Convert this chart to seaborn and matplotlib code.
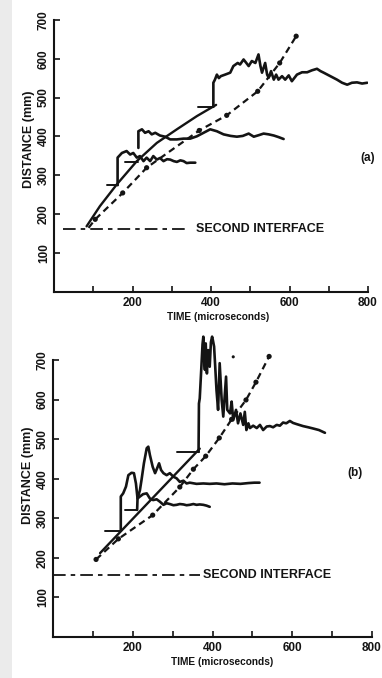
import numpy as np
import pandas as pd
import matplotlib
matplotlib.use("Agg")
import matplotlib.pyplot as plt
import seaborn as sns

sns.set_theme(style="ticks")
plt.rcParams['font.family'] = ['Liberation Sans', 'DejaVu Sans']
plt.rcParams['font.weight'] = 'bold'

# ---------------- Panel (a) data ----------------
a_iface_x = [24, 333]
a_iface_y = [162, 162]
a_smooth_x = [83, 117, 160, 211, 262, 313, 364, 413]
a_smooth_y = [168, 220, 276, 336, 383, 418, 452, 481]
a_dash_x = [88, 105, 175, 236, 370, 440, 519, 575, 617]
a_dash_y = [164, 186, 254, 319, 415, 454, 516, 589, 658]
a_marks = [(136, 162, 274), (181, 214, 333), (368, 406, 476)]
a_c1_x = [162, 162, 173, 185, 194, 202, 211, 219, 228, 236, 245, 253, 262, 270, 279, 288, 296, 305, 313, 322, 330, 338, 347, 360]
a_c1_y = [274, 345, 357, 362, 353, 357, 345, 349, 336, 345, 336, 349, 340, 344, 336, 341, 340, 336, 334, 338, 336, 331, 332, 332]
a_c2_x = [215, 215, 224, 232, 241, 249, 258, 270, 283, 296, 313, 330, 347, 364, 381, 398, 415, 432, 450, 466, 481, 496, 509, 522, 534, 547, 560, 572, 585]
a_c2_y = [370, 413, 418, 409, 413, 405, 409, 402, 399, 392, 392, 394, 394, 400, 409, 418, 413, 405, 401, 399, 401, 407, 399, 403, 407, 405, 402, 398, 393]
a_c3_x = [406, 406, 410, 415, 420, 425, 436, 449, 457, 468, 474, 483, 490, 496, 504, 513, 521, 526, 530, 538, 543, 547, 553, 560, 566, 572, 581, 589, 598, 606, 619, 632, 645, 657, 670, 679, 687, 704, 721, 734, 747, 759, 772, 785, 798]
a_c3_y = [476, 538, 546, 559, 550, 555, 559, 564, 581, 589, 585, 598, 589, 581, 594, 589, 611, 581, 564, 589, 559, 551, 568, 546, 559, 546, 555, 546, 557, 542, 559, 565, 565, 570, 574, 568, 564, 555, 546, 538, 533, 538, 539, 536, 538]

# ---------------- Panel (b) data ----------------
b_iface_x = [0, 368]
b_iface_y = [157, 157]
b_smooth_x = [118, 368]
b_smooth_y = [212, 476]
b_dash_x = [108, 164, 250, 318, 352, 383, 417, 448, 484, 509, 542]
b_dash_y = [196, 248, 308, 379, 424, 457, 503, 550, 599, 644, 709]
b_marks = [(130, 170, 269), (180, 211, 321), (312, 365, 468)]
b_c1_x = [170, 170, 176, 183, 189, 197, 203, 208, 212, 218, 226, 235, 243, 251, 260, 268, 277, 285, 293, 302, 310, 318, 327, 335, 343, 352, 360, 368, 377, 385, 393]
b_c1_y = [269, 355, 363, 380, 409, 415, 414, 388, 350, 355, 361, 363, 350, 346, 348, 342, 334, 338, 336, 333, 334, 336, 335, 333, 334, 336, 334, 335, 334, 332, 329]
b_c2_x = [211, 212, 218, 222, 228, 235, 239, 243, 250, 256, 261, 266, 271, 277, 285, 293, 302, 310, 318, 327, 335, 343, 360, 377, 393, 410, 430, 450, 470, 490, 505, 518]
b_c2_y = [321, 350, 371, 397, 439, 477, 481, 460, 430, 414, 426, 439, 422, 414, 409, 414, 405, 401, 392, 395, 388, 390, 387, 388, 387, 388, 386, 388, 387, 389, 390, 390]
b_c3_x = [365, 366, 368, 372, 375, 377, 379, 381, 383, 385, 386, 388, 389, 391, 393, 396, 399, 401, 404, 407, 410, 414, 418, 423, 427, 434, 437, 444, 448, 452, 459, 464, 470, 477, 481, 485, 490, 494, 502, 511, 519, 527, 536, 544, 552, 561, 569, 577, 585, 594, 602, 611, 627, 640, 652, 667, 682]
b_c3_y = [468, 590, 603, 680, 740, 759, 700, 675, 742, 690, 666, 720, 725, 690, 683, 745, 759, 750, 734, 680, 624, 574, 692, 599, 557, 658, 574, 565, 595, 548, 574, 540, 565, 536, 569, 523, 540, 528, 534, 528, 536, 523, 532, 533, 530, 536, 534, 542, 540, 546, 541, 538, 533, 530, 527, 523, 516]
b_stray_x = [452]
b_stray_y = [708]

xticks = [100, 200, 300, 400, 500, 600, 700, 800]
xticklabels = ['', '200', '', '400', '', '600', '', '800']
yticks = [100, 200, 300, 400, 500, 600, 700]
yticklabels = ['100', '200', '300', '400', '500', '600', '700']

INK = '#141414'

fig = plt.figure(figsize=(3.82, 6.78), dpi=100)
fig.patch.set_facecolor('white')
fig.patches.append(plt.Rectangle((0, 0), 12 / 382, 1, transform=fig.transFigure,
                                 facecolor='#ebebeb', edgecolor='none', zorder=0))

ax_a = fig.add_axes([54 / 382, 1 - 291.5 / 678, 314 / 382, 271.6 / 678])
ax_b = fig.add_axes([53 / 382, 1 - 637 / 678, 319 / 382, 304.7 / 678])


def line(ax, x, y, lw=1.8, ls='-'):
    sns.lineplot(x=x, y=y, ax=ax, sort=False, estimator=None, color=INK,
                 linewidth=lw, linestyle=ls, legend=False)


def draw_panel(ax, iface_x, iface_y, smooth_x, smooth_y, dash_x, dash_y, dot_start,
               marks, curves, ylim, label, label_xy, iface_text_x, lab_coords):
    ax.set_facecolor('none')
    line(ax, iface_x, iface_y, lw=1.3, ls=(0, (7, 2.8, 2.5, 2.8)))
    line(ax, smooth_x, smooth_y, lw=1.7)
    line(ax, dash_x, dash_y, lw=1.6, ls=(0, (3, 2)))
    sns.scatterplot(x=dash_x[dot_start:], y=dash_y[dot_start:],
                    ax=ax, color=INK, s=14, edgecolor='none', legend=False, zorder=5)
    for x0, x1, yv in marks:
        line(ax, [x0, x1], [yv, yv], lw=1.4)
    for cx, cy in curves:
        line(ax, cx, cy, lw=1.9)
    ax.text(iface_text_x, iface_y[0], 'SECOND INTERFACE', fontsize=9,
            fontweight='bold', va='center', ha='left', color=INK)
    ax.text(label_xy[0], label_xy[1], label, fontsize=8.5, fontweight='bold',
            va='center', ha='center', color=INK)

    ax.set_xlim(0, 800)
    ax.set_ylim(*ylim)
    sns.despine(ax=ax)
    for s in ['left', 'bottom']:
        ax.spines[s].set_linewidth(1.5)
        ax.spines[s].set_color(INK)
    ax.spines['left'].set_bounds(0, 700)
    ax.set_xticks(xticks)
    ax.set_xticklabels(xticklabels, fontsize=8.5, fontweight='bold', color=INK)
    ax.set_yticks(yticks)
    ax.set_yticklabels(yticklabels, fontsize=8.5, fontweight='bold', color=INK,
                       rotation=90, va='center')
    ax.tick_params(axis='both', direction='in', length=4, width=1.2, color=INK)
    ax.tick_params(axis='x', pad=lab_coords[4])
    ax.tick_params(axis='y', pad=3)
    ax.set_xlabel('TIME (microseconds)', fontsize=7.3, fontweight='bold', color=INK)
    ax.set_ylabel('DISTANCE (mm)', fontsize=9, fontweight='bold', color=INK)
    ax.xaxis.set_label_coords(lab_coords[0], lab_coords[1])
    ax.yaxis.set_label_coords(lab_coords[2], lab_coords[3])


draw_panel(ax_a, a_iface_x, a_iface_y, a_smooth_x, a_smooth_y, a_dash_x, a_dash_y, 1,
           a_marks, [(a_c1_x, a_c1_y), (a_c2_x, a_c2_y), (a_c3_x, a_c3_y)],
           (0, 700), '(a)', (798, 345), 361, (0.522, -0.074, -0.062, 0.56, 4.0))
draw_panel(ax_b, b_iface_x, b_iface_y, b_smooth_x, b_smooth_y, b_dash_x, b_dash_y, 0,
           b_marks, [(b_c1_x, b_c1_y), (b_c2_x, b_c2_y), (b_c3_x, b_c3_y)],
           (0, 770), '(b)', (757, 414), 376, (0.529, -0.066, -0.058, 0.53, 3.5))
sns.scatterplot(x=b_stray_x, y=b_stray_y, ax=ax_b, color=INK, s=5,
                edgecolor='none', legend=False)

fig.savefig('out.png', dpi=100)
